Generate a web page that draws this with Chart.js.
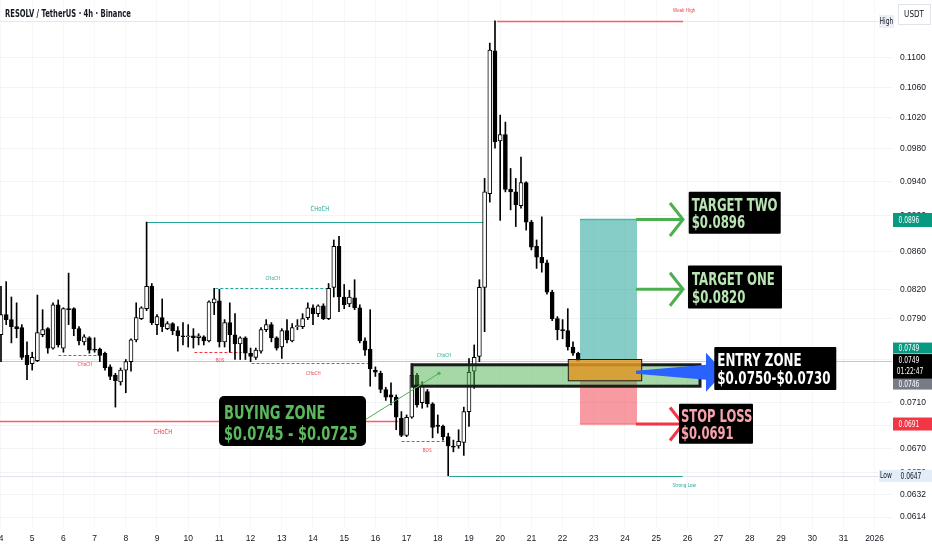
<!DOCTYPE html>
<html>
<head>
<meta charset="utf-8">
<title>RESOLV / TetherUS 4h</title>
<script src="https://cdn.jsdelivr.net/npm/chart.js@4.4.1/dist/chart.umd.min.js"></script>
<style>
  html, body { margin: 0; padding: 0; background: #fff; overflow: hidden; }
  canvas { display: block; }
</style>
</head>
<body>
<canvas id="chart" width="932" height="550"></canvas>
<script>
// 4h candles, first one Dec 4 00:00, last one Dec 22 12:00 (6 per day)
const firstDay = 4;
const opens = [
  0.0774, 0.0794, 0.0789, 0.0782, 0.0781, 0.0754, 0.0746, 0.0749, 0.0774, 0.0780,
  0.0761, 0.0804, 0.0761, 0.0800, 0.0800, 0.0780, 0.0767, 0.0771, 0.0760, 0.0760,
  0.0756, 0.0743, 0.0735, 0.0729, 0.0740, 0.0748, 0.0769, 0.0790, 0.0800, 0.0823,
  0.0784, 0.0791, 0.0780, 0.0785, 0.0778, 0.0773, 0.0772, 0.0773, 0.0771, 0.0772,
  0.0768, 0.0806, 0.0808, 0.0767, 0.0786, 0.0774, 0.0765, 0.0771, 0.0756, 0.0752,
  0.0758, 0.0779, 0.0784, 0.0771, 0.0762, 0.0778, 0.0768, 0.0782, 0.0782, 0.0791,
  0.0801, 0.0795, 0.0803, 0.0790, 0.0822, 0.0866, 0.0812, 0.0805, 0.0811, 0.0801,
  0.0768, 0.0760, 0.0740, 0.0737, 0.0722, 0.0717, 0.0715, 0.0696, 0.0681, 0.0697,
  0.0735, 0.0710, 0.0720, 0.0709, 0.0690, 0.0689, 0.0680, 0.0672, 0.0672, 0.0675,
  0.0702, 0.0739, 0.0753, 0.0822, 0.0926, 0.1110, 0.0990, 0.0998, 0.0931, 0.0928,
  0.0912, 0.0939, 0.0893, 0.0866, 0.0854, 0.0848, 0.0817, 0.0790, 0.0779, 0.0778,
  0.0762, 0.0756
];
const highs = [
  0.0823, 0.0828, 0.0812, 0.0806, 0.0784, 0.0767, 0.0757, 0.0814, 0.0799, 0.0781,
  0.0806, 0.0809, 0.0801, 0.0837, 0.0801, 0.0782, 0.0774, 0.0772, 0.0771, 0.0761,
  0.0757, 0.0745, 0.0737, 0.0742, 0.0750, 0.0770, 0.0806, 0.0802, 0.0893, 0.0826,
  0.0794, 0.0810, 0.0787, 0.0786, 0.0782, 0.0786, 0.0784, 0.0780, 0.0775, 0.0773,
  0.0808, 0.0821, 0.0820, 0.0789, 0.0806, 0.0795, 0.0772, 0.0772, 0.0761, 0.0761,
  0.0781, 0.0789, 0.0786, 0.0772, 0.0780, 0.0789, 0.0785, 0.0789, 0.0795, 0.0806,
  0.0804, 0.0804, 0.0805, 0.0826, 0.0873, 0.0877, 0.0825, 0.0819, 0.0830, 0.0804,
  0.0771, 0.0799, 0.0743, 0.0739, 0.0724, 0.0728, 0.0717, 0.0702, 0.0699, 0.0746,
  0.0737, 0.0729, 0.0722, 0.0710, 0.0699, 0.0690, 0.0683, 0.0677, 0.0686, 0.0706,
  0.0751, 0.0764, 0.0830, 0.0944, 0.1121, 0.1153, 0.1023, 0.1014, 0.0956, 0.0944,
  0.0970, 0.0940, 0.0895, 0.0873, 0.0899, 0.0851, 0.0819, 0.0792, 0.0789, 0.0800,
  0.0767, 0.0757
];
const lows = [
  0.0748, 0.0784, 0.0766, 0.0771, 0.0750, 0.0731, 0.0740, 0.0748, 0.0772, 0.0756,
  0.0760, 0.0762, 0.0757, 0.0784, 0.0773, 0.0764, 0.0764, 0.0756, 0.0757, 0.0748,
  0.0740, 0.0731, 0.0706, 0.0726, 0.0719, 0.0739, 0.0767, 0.0789, 0.0798, 0.0784,
  0.0774, 0.0777, 0.0779, 0.0774, 0.0758, 0.0764, 0.0762, 0.0761, 0.0764, 0.0764,
  0.0767, 0.0794, 0.0762, 0.0762, 0.0757, 0.0750, 0.0750, 0.0750, 0.0748, 0.0750,
  0.0756, 0.0777, 0.0767, 0.0759, 0.0751, 0.0766, 0.0767, 0.0779, 0.0780, 0.0789,
  0.0784, 0.0792, 0.0789, 0.0789, 0.0812, 0.0797, 0.0800, 0.0802, 0.0799, 0.0766,
  0.0754, 0.0725, 0.0734, 0.0719, 0.0712, 0.0708, 0.0686, 0.0680, 0.0680, 0.0696,
  0.0706, 0.0705, 0.0706, 0.0679, 0.0683, 0.0677, 0.0647, 0.0667, 0.0670, 0.0664,
  0.0689, 0.0723, 0.0748, 0.0777, 0.0916, 0.0981, 0.0895, 0.0928, 0.0907, 0.0888,
  0.0909, 0.0884, 0.0862, 0.0842, 0.0838, 0.0815, 0.0788, 0.0769, 0.0770, 0.0759,
  0.0754, 0.0748
];
const closes = [
  0.0794, 0.0789, 0.0782, 0.0780, 0.0752, 0.0745, 0.0752, 0.0776, 0.0779, 0.0761,
  0.0804, 0.0764, 0.0800, 0.0799, 0.0780, 0.0768, 0.0772, 0.0759, 0.0759, 0.0754,
  0.0742, 0.0734, 0.0730, 0.0740, 0.0748, 0.0769, 0.0791, 0.0801, 0.0823, 0.0786,
  0.0792, 0.0782, 0.0785, 0.0778, 0.0773, 0.0772, 0.0773, 0.0771, 0.0773, 0.0768,
  0.0807, 0.0810, 0.0767, 0.0786, 0.0774, 0.0765, 0.0771, 0.0756, 0.0753, 0.0759,
  0.0779, 0.0784, 0.0771, 0.0761, 0.0778, 0.0769, 0.0781, 0.0783, 0.0790, 0.0801,
  0.0795, 0.0803, 0.0790, 0.0821, 0.0866, 0.0812, 0.0804, 0.0812, 0.0801, 0.0768,
  0.0759, 0.0741, 0.0738, 0.0722, 0.0715, 0.0715, 0.0697, 0.0681, 0.0697, 0.0735,
  0.0708, 0.0725, 0.0709, 0.0688, 0.0689, 0.0680, 0.0672, 0.0671, 0.0676, 0.0702,
  0.0738, 0.0752, 0.0822, 0.0928, 0.1111, 0.0989, 0.0998, 0.0931, 0.0928, 0.0913,
  0.0939, 0.0893, 0.0865, 0.0854, 0.0848, 0.0817, 0.0790, 0.0779, 0.0778, 0.0762,
  0.0756, 0.0749
];

const dayTicks = [4, 5, 6, 7, 8, 9, 10, 11, 12, 13, 14, 15, 16, 17, 18, 19, 20, 21, 22, 23, 24, 25, 26, 27, 28, 29, 30, 31, 32];
const dayLabels = ["4", "5", "6", "7", "8", "9", "10", "11", "12", "13", "14", "15", "16", "17", "18", "19", "20", "21", "22", "23", "24", "25", "26", "27", "28", "29", "30", "31", "2026"];
const priceTicks = [0.1100, 0.1060, 0.1020, 0.0980, 0.0940, 0.0900, 0.0860, 0.0820, 0.0790, 0.0750, 0.0710, 0.0690, 0.0670, 0.0650, 0.0632, 0.0614];
const priceTickLabels = ["0.1100", "0.1060", "0.1020", "0.0980", "0.0940", "0.0900", "0.0860", "0.0820", "0.0790", "0.0750", "0.0710", "0.0690", "0.0670", "0.0650", "0.0632", "0.0614"];

// trade idea levels
const targetTwo = 0.0896, targetOne = 0.0820;
const entryTop = 0.0750, entryBottom = 0.0730;
const stopLoss = 0.0691;
const buyTop = 0.0745, buyBottom = 0.0725;
const lastPrice = 0.0749, prevClose = 0.0746;
const highPrice = 0.1153, lowPrice = 0.0647;

// visible window
const xMin = 3.968, xMax = 32.558;
const yMin = 0.06055, yMax = 0.11841;

// market structure marks (day, price)
const smcLines = [
  { from: 8.667, to: 19.51, price: 0.0893, color: "#26a69a", dash: [], width: 1 },
  { from: 10.87, to: 14.49, price: 0.0821, color: "#26a69a", dash: [3, 2], width: 1 },
  { from: 5.84, to: 7.17, price: 0.0754, color: "#f23645", dash: [3, 2], width: 1 },
  { from: 10.20, to: 11.72, price: 0.0757, color: "#f23645", dash: [3, 2], width: 1 },
  { from: 12.03, to: 15.83, price: 0.0747, color: "#f23645", dash: [3, 2], width: 1 },
  { from: 16.84, to: 18.39, price: 0.0676, color: "#f23645", dash: [3, 2], width: 1 },
  { from: 3.90, to: 16.73, price: 0.0694, color: "#ff5a6a", dash: [], width: 1.5 },
  { from: 18.37, to: 25.85, price: lowPrice, color: "#26a69a", dash: [], width: 1 },
  { from: 19.90, to: 25.86, price: highPrice, color: "#ff5a6a", dash: [], width: 1.5 }
];
const smcTags = [
  { text: "CHoCH", day: 14.22, price: 0.0908, color: "#26a69a", size: 7 },
  { text: "CHoCH", day: 12.71, price: 0.0831, color: "#26a69a", size: 5.5 },
  { text: "CHoCH", day: 18.20, price: 0.0754, color: "#26a69a", size: 5.5 },
  { text: "CHoCH", day: 6.69, price: 0.0745, color: "#f23645", size: 5.5 },
  { text: "BOS", day: 11.02, price: 0.0749, color: "#f23645", size: 5.5 },
  { text: "CHoCH", day: 14.01, price: 0.0737, color: "#f23645", size: 5.5 },
  { text: "BOS", day: 17.66, price: 0.0668, color: "#f23645", size: 5.5 },
  { text: "CHoCH", day: 9.19, price: 0.0684, color: "#f23645", size: 7 },
  { text: "Strong Low", day: 25.90, price: 0.0639, color: "#26a69a", size: 5.5 },
  { text: "Weak High", day: 25.90, price: 0.1169, color: "#f23645", size: 5.5 }
];
const tradeLabels = [
  { day: 26.042, price: 0.0928, w: 92, h: 42, lines: ["TARGET TWO", "$0.0896"], color: "#b9e5b4", size: 17, pad: 3, sx: 0.69 },
  { day: 26.019, price: 0.0845, w: 94, h: 43, lines: ["TARGET ONE", "$0.0820"], color: "#b9e5b4", size: 17, pad: 4, sx: 0.69 },
  { day: 26.862, price: 0.0762, w: 122, h: 43, lines: ["ENTRY ZONE", "$0.0750-$0.0730"], color: "#ffffff", size: 17, pad: 3, sx: 0.7 },
  { day: 25.731, price: 0.0709, w: 74, h: 40, lines: ["STOP LOSS", "$0.0691"], color: "#f7a3ae", size: 17, pad: 2, sx: 0.68 },
  { day: 10.987, price: 0.0716, w: 147, h: 50, lines: ["BUYING ZONE", "$0.0745 - $0.0725"], color: "#5cb85c", size: 19.5, pad: 5, sx: 0.67, radius: 5 }
];

const times = opens.map((_, i) => firstDay + i / 6);
const bodyColors = opens.map((o, i) => (closes[i] >= o ? "#ffffff" : "#000000"));

// the reference text is set in a narrow face, so squeeze it horizontally
const SX = 0.76;
function squish(ctx, text, x, y, size, color, opts = {}) {
  const sx = opts.sx || SX;
  ctx.save();
  ctx.font = `${opts.weight || "normal"} ${size}px "DejaVu Sans", sans-serif`;
  ctx.fillStyle = color;
  ctx.textBaseline = opts.baseline || "alphabetic";
  ctx.textAlign = "left";
  const w = ctx.measureText(text).width * sx;
  let left = x;
  if (opts.align === "center") left = x - w / 2;
  if (opts.align === "right") left = x - w;
  ctx.translate(left, y);
  ctx.scale(sx, 1);
  ctx.fillText(text, 0, 0);
  ctx.restore();
}

function line(ctx, x1, y1, x2, y2, color, width, dash) {
  ctx.save();
  ctx.strokeStyle = color;
  ctx.lineWidth = width;
  ctx.setLineDash(dash || []);
  ctx.beginPath();
  ctx.moveTo(x1, y1);
  ctx.lineTo(x2, y2);
  ctx.stroke();
  ctx.restore();
}

function rect(ctx, x1, y1, x2, y2, fill, stroke, width) {
  ctx.save();
  ctx.fillStyle = fill;
  ctx.fillRect(x1, y1, x2 - x1, y2 - y1);
  if (stroke) {
    ctx.strokeStyle = stroke;
    ctx.lineWidth = width;
    ctx.strokeRect(x1, y1, x2 - x1, y2 - y1);
  }
  ctx.restore();
}

function chevron(ctx, tipX, y, color) {
  ctx.save();
  ctx.strokeStyle = color;
  ctx.lineWidth = 3;
  ctx.beginPath();
  ctx.moveTo(tipX - 13, y - 16.5);
  ctx.lineTo(tipX, y);
  ctx.lineTo(tipX - 13, y + 16.5);
  ctx.stroke();
  ctx.restore();
}

function badge(ctx, x, yc, h, w, text, bg, fg) {
  ctx.save();
  ctx.fillStyle = bg;
  ctx.fillRect(x, yc - h / 2, w, h);
  ctx.restore();
  squish(ctx, text, x + 16, yc + 0.5, 8.5, fg, { align: "center", baseline: "middle", sx: 0.7 });
}

const tradePlugin = {
  id: "tradeIdea",
  beforeDatasetsDraw(chart) {
    const { ctx, chartArea: a } = chart;
    const X = d => chart.scales.x.getPixelForValue(d);
    const Y = p => chart.scales.y.getPixelForValue(p);
    ctx.save();
    ctx.beginPath();
    ctx.rect(a.left, a.top, a.width, a.height);
    ctx.clip();
    line(ctx, a.left, Math.round(Y(highPrice)) + 0.5, a.right, Math.round(Y(highPrice)) + 0.5, "#e6e8ee", 1);
    line(ctx, a.left, Math.round(Y(lowPrice)) + 0.5, a.right, Math.round(Y(lowPrice)) + 0.5, "#e0e3eb", 1);
    line(ctx, a.left, Math.round(Y(lastPrice)) + 0.5, a.right, Math.round(Y(lastPrice)) + 0.5, "#c3c6ce", 1);
    smcLines.forEach(l => {
      const y = Math.round(Y(l.price)) + 0.5;
      line(ctx, X(l.from), y, X(l.to), y, l.color, l.width, l.dash);
    });
    smcTags.forEach(t => squish(ctx, t.text, X(t.day), Y(t.price), t.size, t.color, { align: "center", baseline: "middle" }));
    ctx.restore();
  },
  afterDatasetsDraw(chart) {
    const { ctx } = chart;
    const X = d => chart.scales.x.getPixelForValue(d);
    const Y = p => chart.scales.y.getPixelForValue(p);
    // long position: reward and risk areas
    const l = X(22.558), r = X(24.385);
    rect(ctx, l, Y(targetTwo), r, Y(entryTop), "rgba(38,166,154,0.56)");
    rect(ctx, l, Y(entryBottom), r, Y(stopLoss), "rgba(242,54,69,0.5)");
    line(ctx, l, Y(targetTwo), r, Y(targetTwo), "#4db6ac", 1.5);
    line(ctx, l, Y(stopLoss), r, Y(stopLoss), "#f47c86", 1.5);
    // buying zone
    rect(ctx, X(17.173), Y(buyTop), X(26.404), Y(buyBottom), "rgba(76,175,80,0.5)", "#1b1b1b", 3);
    // entry box
    rect(ctx, X(22.183), Y(entryTop), X(24.535), Y(entryBottom), "rgba(222,152,36,0.85)", "#1b1b1b", 1);
    // pointer from the buying zone label
    const p1x = X(15.69), p1y = Y(0.0695), p2x = X(18.04), p2y = Y(0.0737);
    line(ctx, p1x, p1y, p2x, p2y, "#4caf50", 1);
    ctx.save();
    ctx.fillStyle = "#4caf50";
    ctx.beginPath();
    ctx.arc(p2x, p2y, 1.6, 0, Math.PI * 2);
    ctx.fill();
    ctx.restore();
    // target and stop arrows
    const tip = X(25.859);
    [targetTwo, targetOne].forEach(p => {
      line(ctx, r - 1, Y(p), tip, Y(p), "#4caf50", 3);
      chevron(ctx, tip, Y(p), "#4caf50");
    });
    line(ctx, r - 1, Y(stopLoss), tip, Y(stopLoss), "#f23645", 3);
    chevron(ctx, tip, Y(stopLoss), "#f23645");
    // blue entry arrow
    const ax = X(24.353), ay = Y(0.0738);
    ctx.save();
    ctx.fillStyle = "#2962ff";
    ctx.beginPath();
    ctx.moveTo(ax, ay - 1.5);
    ctx.lineTo(ax + 70, ay - 7.5);
    ctx.lineTo(ax + 70, ay - 19.5);
    ctx.lineTo(ax + 88, ay);
    ctx.lineTo(ax + 70, ay + 19.5);
    ctx.lineTo(ax + 70, ay + 7.5);
    ctx.lineTo(ax, ay + 1.5);
    ctx.closePath();
    ctx.fill();
    ctx.restore();
  },
  afterDraw(chart) {
    const { ctx, chartArea: a } = chart;
    const X = d => chart.scales.x.getPixelForValue(d);
    const Y = p => chart.scales.y.getPixelForValue(p);
    // text boxes
    tradeLabels.forEach(lb => {
      const left = X(lb.day), top = Y(lb.price);
      ctx.save();
      ctx.fillStyle = "#000";
      ctx.beginPath();
      ctx.roundRect(left, top, lb.w, lb.h, lb.radius || 1);
      ctx.fill();
      ctx.restore();
      const o = { weight: "bold", sx: lb.sx };
      squish(ctx, lb.lines[0], left + lb.pad, top + lb.h * 0.45, lb.size, lb.color, o);
      squish(ctx, lb.lines[1], left + lb.pad, top + lb.h * 0.87, lb.size, lb.color, o);
    });
    // price scale badges
    const bx = a.right + 1;
    badge(ctx, bx, Y(targetTwo) + 0.5, 14, 39, "0.0896", "#089981", "#ffffff");
    badge(ctx, bx, Y(lastPrice) - 12.5, 11, 39, "0.0749", "#089981", "#ffffff");
    ctx.save();
    ctx.fillStyle = "#000";
    ctx.fillRect(bx, Y(lastPrice) - 6.5, 39, 25);
    ctx.restore();
    squish(ctx, "0.0749", bx + 16, Y(lastPrice) + 0.5, 8.5, "#ffffff", { align: "center", baseline: "middle", sx: 0.7 });
    squish(ctx, "01:22:47", bx + 17, Y(lastPrice) + 11.5, 8.5, "#ffffff", { align: "center", baseline: "middle", sx: 0.7 });
    badge(ctx, bx, Y(lastPrice) + 23.5, 11, 39, "0.0746", "#787b86", "#ffffff");
    badge(ctx, bx, Y(stopLoss), 13, 39, "0.0691", "#f23645", "#ffffff");
    // high / low markers
    ctx.save();
    ctx.fillStyle = "#e3ecf8";
    ctx.fillRect(a.right - 13, Y(lowPrice) - 6, 53, 12);
    ctx.fillStyle = "#eceff6";
    ctx.fillRect(a.right - 13, Y(highPrice) - 6, 15, 13);
    ctx.fillStyle = "#ffffff";
    ctx.fillRect(a.right + 6, 4, 33, 21);
    ctx.strokeStyle = "#e0e3eb";
    ctx.strokeRect(a.right + 6.5, 4.5, 32, 20);
    ctx.restore();
    squish(ctx, "Low", a.right - 6, Y(lowPrice) + 0.5, 8, "#131722", { align: "center", baseline: "middle", sx: 0.75 });
    squish(ctx, "0.0647", a.right + 19, Y(lowPrice) + 0.5, 8.5, "#131722", { align: "center", baseline: "middle", sx: 0.7 });
    squish(ctx, "High", a.right - 5.5, Y(highPrice) + 0.5, 8, "#131722", { align: "center", baseline: "middle", sx: 0.75 });
    squish(ctx, "USDT", a.right + 22, 15, 9, "#131722", { align: "center", baseline: "middle", sx: 0.8 });
    // title
    squish(ctx, "RESOLV / TetherUS · 4h · Binance", 5, 17.3, 10, "#131722", { weight: "bold", sx: 0.68 });
  }
};

const tickFont = { family: "'Liberation Sans', Arial, sans-serif", size: 8.5 };

new Chart(document.getElementById("chart"), {
  type: "bar",
  data: {
    datasets: [
      {
        label: "body",
        data: times.map((t, i) => ({ x: t, y: [opens[i], closes[i]] })),
        backgroundColor: bodyColors,
        borderColor: "#000000",
        borderWidth: 1,
        borderSkipped: false,
        barThickness: 4,
        grouped: false,
        order: 0
      },
      {
        label: "wick",
        data: times.map((t, i) => ({ x: t, y: [lows[i], highs[i]] })),
        backgroundColor: "#000000",
        borderWidth: 0,
        barThickness: 1,
        grouped: false,
        order: 1
      }
    ]
  },
  options: {
    responsive: false,
    animation: false,
    events: [],
    layout: { padding: 0, autoPadding: false },
    plugins: { legend: { display: false }, tooltip: { enabled: false } },
    scales: {
      x: {
        type: "linear", position: "bottom", min: xMin, max: xMax, offset: false,
        grid: { color: "rgba(42,46,57,0.035)", drawTicks: false, offset: false },
        border: { display: false },
        ticks: { autoSkip: false, maxRotation: 0, padding: 6, color: "#131722", font: tickFont, callback: (v, i) => dayLabels[i] },
        afterBuildTicks: s => { s.ticks = dayTicks.map(v => ({ value: v })); },
        afterFit: s => { s.height = 22; s.paddingLeft = 0; s.paddingRight = 0; }
      },
      y: {
        type: "logarithmic", position: "right", min: yMin, max: yMax,
        grid: { color: "rgba(42,46,57,0.06)", drawTicks: false },
        border: { display: false },
        ticks: { autoSkip: false, padding: 8, color: "#131722", font: tickFont, callback: (v, i) => priceTickLabels[i] },
        afterBuildTicks: s => { s.ticks = priceTicks.map(v => ({ value: v })); },
        afterFit: s => { s.width = 40; s.paddingTop = 0; s.paddingBottom = 0; }
      }
    }
  },
  plugins: [tradePlugin]
});
</script>
</body>
</html>
